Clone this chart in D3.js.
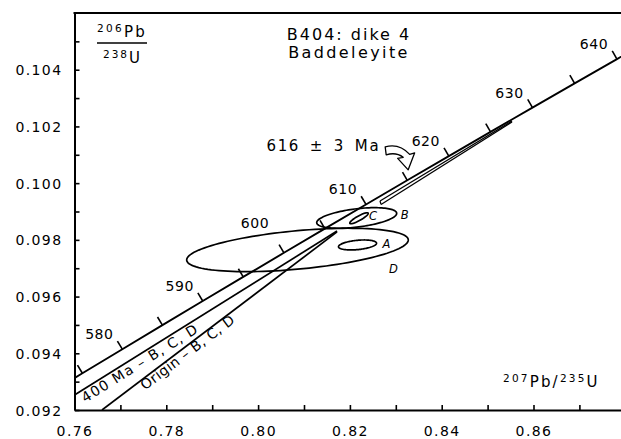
<!DOCTYPE html>
<html><head><meta charset="utf-8">
<script src="https://cdn.jsdelivr.net/npm/d3@7"></script>
<style>
html,body{margin:0;padding:0;background:#fff;}
svg{display:block;font-family:"DejaVu Sans",sans-serif;}
</style>
</head><body>
<svg id="chart" width="621" height="439"></svg>
<script>
// ---- Data ----
// Concordia curve (207Pb/235U, 206Pb/238U) at 5 Ma steps
const concAges = [560,565,570,575,580,585,590,595,600,605,610,615,620,625,630,635,640,645,650];
const concX = [0.735882,0.744451,0.753065,0.761717,0.770415,0.779152,0.787935,0.796761,0.805630,0.814544,0.823501,0.832503,0.841548,0.850640,0.859775,0.868955,0.878181,0.887452,0.896770];
const concY = [0.0907549,0.0916012,0.0924482,0.0932959,0.0941442,0.0949932,0.0958429,0.0966932,0.0975441,0.0983957,0.0992480,0.1001010,0.1009546,0.1018088,0.1026638,0.1035193,0.1043755,0.1052324,0.1060901];
const tickAges = [575,580,585,590,595,600,605,610,615,620,625,630,635,640];
const labelAges = [580,590,600,610,620,630,640];

// Axis ticks
const xMajor = [0.76,0.78,0.80,0.82,0.84,0.86];
const xTickLabels = ["0.76","0.78","0.80","0.82","0.84","0.86"];
const xMinor = [0.77,0.79,0.81,0.83,0.85,0.87];
const yMajor = [0.092,0.094,0.096,0.098,0.100,0.102,0.104];
const yTickLabels = ["0.092","0.094","0.096","0.098","0.100","0.102","0.104"];
const yMinor = [0.093,0.095,0.097,0.099,0.101,0.103,0.105];

// Error ellipses
const ellNames = ["D","A","B","C"];
const ellCX = [0.80858,0.82166,0.82148,0.82198];
const ellCY = [0.097644,0.09782,0.098772,0.098762];
const ellSX = [0.02414,0.00414,0.00871,0.0020];
const ellSY = [0.000765,0.000176,0.000363,0.000194];
const ellRho = [0.46,0.35,0.45,0.88];

// Regression lines
const lineNames = ["400 Ma – B, C, D","Origin – B, C, D"];
const lineX0 = [0.76,0.76599];
const lineY0 = [0.09253,0.092];
const lineX1 = [0.8172,0.8172];
const lineY1 = [0.09831,0.09828];

// Upper-intercept envelope (double line)
const envX0 = [0.82656,0.82678];
const envY0 = [0.099372,0.099249];
const envX1 = [0.85532,0.85532];
const envY1 = [0.102194,0.102159];

const interceptLabel = "616 ± 3 Ma";
const arrowTip = [0.8327,0.10047];

// ---- Chart ----
const W = 621, H = 439;
const svg = d3.select("#chart");
svg.append("rect").attr("width",W).attr("height",H).attr("fill","#fff");

const x = d3.scaleLinear().domain([0.76,0.88]).range([74.5,625.3]);
const y = d3.scaleLinear().domain([0.092,0.106]).range([410,13]);

svg.append("clipPath").attr("id","plot")
  .append("rect").attr("x",x(0.76)).attr("y",y(0.106)).attr("width",W-x(0.76)).attr("height",y(0.092)-y(0.106));

const plot = svg.append("g").attr("clip-path","url(#plot)");

// Ellipses
const ts = d3.range(0,361,3).map(d=>d*Math.PI/180);
const ln = d3.line().x(d=>x(d[0])).y(d=>y(d[1]));
ellNames.forEach((n,i)=>{
  const r = ellRho[i], q = Math.sqrt(1-r*r);
  const pts = ts.map(t=>[ellCX[i]+ellSX[i]*Math.cos(t), ellCY[i]+ellSY[i]*(r*Math.cos(t)+q*Math.sin(t))]);
  plot.append("path").attr("d",ln(pts)+"Z").attr("fill","none").attr("stroke","#000").attr("stroke-width",1.7);
});
const ellLabelOff = {D:[96,19],A:[29,-1],B:[48,-3],C:[14,-2]};
ellNames.forEach((n,i)=>{
  const o = ellLabelOff[n];
  svg.append("text").attr("x",x(ellCX[i])+o[0]).attr("y",y(ellCY[i])+o[1])
    .attr("text-anchor","middle").attr("dominant-baseline","central")
    .attr("font-size",11.5).attr("font-style","italic").text(n);
});

// Regression lines
lineNames.forEach((n,i)=>{
  plot.append("line").attr("x1",x(lineX0[i])).attr("y1",y(lineY0[i]))
    .attr("x2",x(lineX1[i])).attr("y2",y(lineY1[i]))
    .attr("stroke","#000").attr("stroke-width",1.7);
});
// envelope double line
envX0.forEach((v,i)=>{
  plot.append("line").attr("x1",x(envX0[i])).attr("y1",y(envY0[i]))
    .attr("x2",x(envX1[i])).attr("y2",y(envY1[i]))
    .attr("stroke","#000").attr("stroke-width",1.3);
});
plot.append("line").attr("x1",x(envX0[0])).attr("y1",y(envY0[0]))
  .attr("x2",x(envX0[1])).attr("y2",y(envY0[1])).attr("stroke","#000").attr("stroke-width",1.3);

// Line labels rotated along lines
const lineLabelCfg = [{along:5, off:12.5, ls:1.2},{along:46, off:10.5, ls:0.5}];
lineNames.forEach((n,i)=>{
  const x0=x(lineX0[i]), y0=y(lineY0[i]), x1=x(lineX1[i]), y1=y(lineY1[i]);
  const len = Math.hypot(x1-x0,y1-y0);
  const ux=(x1-x0)/len, uy=(y1-y0)/len;
  const a = Math.atan2(y1-y0,x1-x0)*180/Math.PI;
  const c = lineLabelCfg[i];
  const px = x0+ux*c.along, py = y0+uy*c.along;
  svg.append("text").attr("transform",`translate(${px},${py}) rotate(${a})`)
    .attr("x",0).attr("y",c.off).attr("font-size",14).attr("letter-spacing",c.ls).text(n);
});

// Concordia
const conc = concAges.map((a,i)=>[concX[i],concY[i]]);
plot.append("path").attr("d",ln(conc)).attr("fill","none").attr("stroke","#000").attr("stroke-width",1.9);

// Age ticks & labels
tickAges.forEach(a=>{
  const i = concAges.indexOf(a);
  const bx = x(concX[i]), by = y(concY[i]);
  const tx = x(concX[i+1])-x(concX[i-1]), ty = y(concY[i+1])-y(concY[i-1]);
  const L = Math.hypot(tx,ty);
  const nx = ty/L, ny = -tx/L;
  plot.append("line").attr("x1",bx).attr("y1",by).attr("x2",bx+nx*9.5).attr("y2",by+ny*9.5)
    .attr("stroke","#000").attr("stroke-width",1.6);
  if (labelAges.includes(a)) {
    const off = a===600 ? [-29,-30] : [-23,-15];
    svg.append("text").attr("x",bx+off[0]).attr("y",by+off[1])
      .attr("text-anchor","middle").attr("dominant-baseline","central")
      .attr("font-size",14).attr("letter-spacing",0.5).text(a);
  }
});

// Arrow and intercept label
const ax = x(arrowTip[0]), ay = y(arrowTip[1]);
const ag = svg.append("g").attr("transform",`translate(${ax},${ay})`);
ag.append("path")
  .attr("d","M-23,-23 Q-9,-27 1.5,-15.5 L6.5,-17 L0,0 L-10.5,-11.5 L-5,-12.5 Q-12,-18 -22,-15 Z")
  .attr("fill","#fff").attr("stroke","#000").attr("stroke-width",1.3).attr("stroke-linejoin","round");
svg.append("text").attr("x",ax-28).attr("y",ay-19).attr("text-anchor","end")
  .attr("font-size",15).attr("letter-spacing",1.6).attr("word-spacing",3.5).text(interceptLabel);

// Axes
const fmtX = d=>{const k=xMajor.findIndex(v=>Math.abs(v-d)<1e-9);return k>=0?xTickLabels[k]:"";};
const fmtY = d=>{const k=yMajor.findIndex(v=>Math.abs(v-d)<1e-9);return k>=0?yTickLabels[k]:"";};
const gx = svg.append("g").attr("transform",`translate(0,${y(0.092)})`)
  .call(d3.axisBottom(x).tickValues(xMajor.concat(xMinor)).tickSizeInner(-5).tickSizeOuter(0).tickFormat(fmtX));
gx.selectAll("text").attr("y",25.5).attr("dy",null).attr("font-size",14).attr("letter-spacing",1.4)
  .attr("font-family","DejaVu Sans").attr("fill","#000");
gx.selectAll(".tick line").attr("stroke","#000").attr("stroke-width",1.6);
gx.select(".domain").attr("stroke","#000").attr("stroke-width",2);

const gy = svg.append("g").attr("transform",`translate(${x(0.76)},0)`)
  .call(d3.axisLeft(y).tickValues(yMajor.concat(yMinor)).tickSizeInner(-5).tickSizeOuter(0).tickFormat(fmtY));
gy.selectAll("text").attr("x",-12).attr("dy","0.36em").attr("font-size",14).attr("letter-spacing",1.4)
  .attr("font-family","DejaVu Sans").attr("fill","#000");
gy.selectAll(".tick line").attr("stroke","#000").attr("stroke-width",1.6);
gy.select(".domain").attr("stroke","#000").attr("stroke-width",2);

svg.append("line").attr("x1",x(0.76)-1).attr("y1",y(0.106)).attr("x2",W).attr("y2",y(0.106))
  .attr("stroke","#000").attr("stroke-width",2);

// Titles
svg.append("text").attr("x",349).attr("y",40).attr("text-anchor","middle")
  .attr("font-size",16).attr("letter-spacing",2).text("B404: dike 4");
svg.append("text").attr("x",349).attr("y",58).attr("text-anchor","middle")
  .attr("font-size",16).attr("letter-spacing",2.4).text("Baddeleyite");

// y-axis label (fraction)
const yl = svg.append("text").attr("x",97).attr("y",37).attr("letter-spacing",2.3);
yl.append("tspan").attr("font-size",10.5).attr("dy",-5).text("206");
yl.append("tspan").attr("font-size",15).attr("dy",5).text("Pb");
svg.append("line").attr("x1",97).attr("x2",147).attr("y1",43).attr("y2",43).attr("stroke","#000").attr("stroke-width",1.6);
const yl2 = svg.append("text").attr("x",103).attr("y",63).attr("letter-spacing",2);
yl2.append("tspan").attr("font-size",10.5).attr("dy",-5).text("238");
yl2.append("tspan").attr("font-size",15).attr("dy",5).text("U");

// x-axis label
const xl = svg.append("text").attr("x",503).attr("y",387).attr("letter-spacing",2.2);
xl.append("tspan").attr("font-size",10.5).attr("dy",-5).text("207");
xl.append("tspan").attr("font-size",15).attr("dy",5).text("Pb/");
xl.append("tspan").attr("font-size",10.5).attr("dy",-5).text("235");
xl.append("tspan").attr("font-size",15).attr("dy",5).text("U");
</script>
</body></html>
